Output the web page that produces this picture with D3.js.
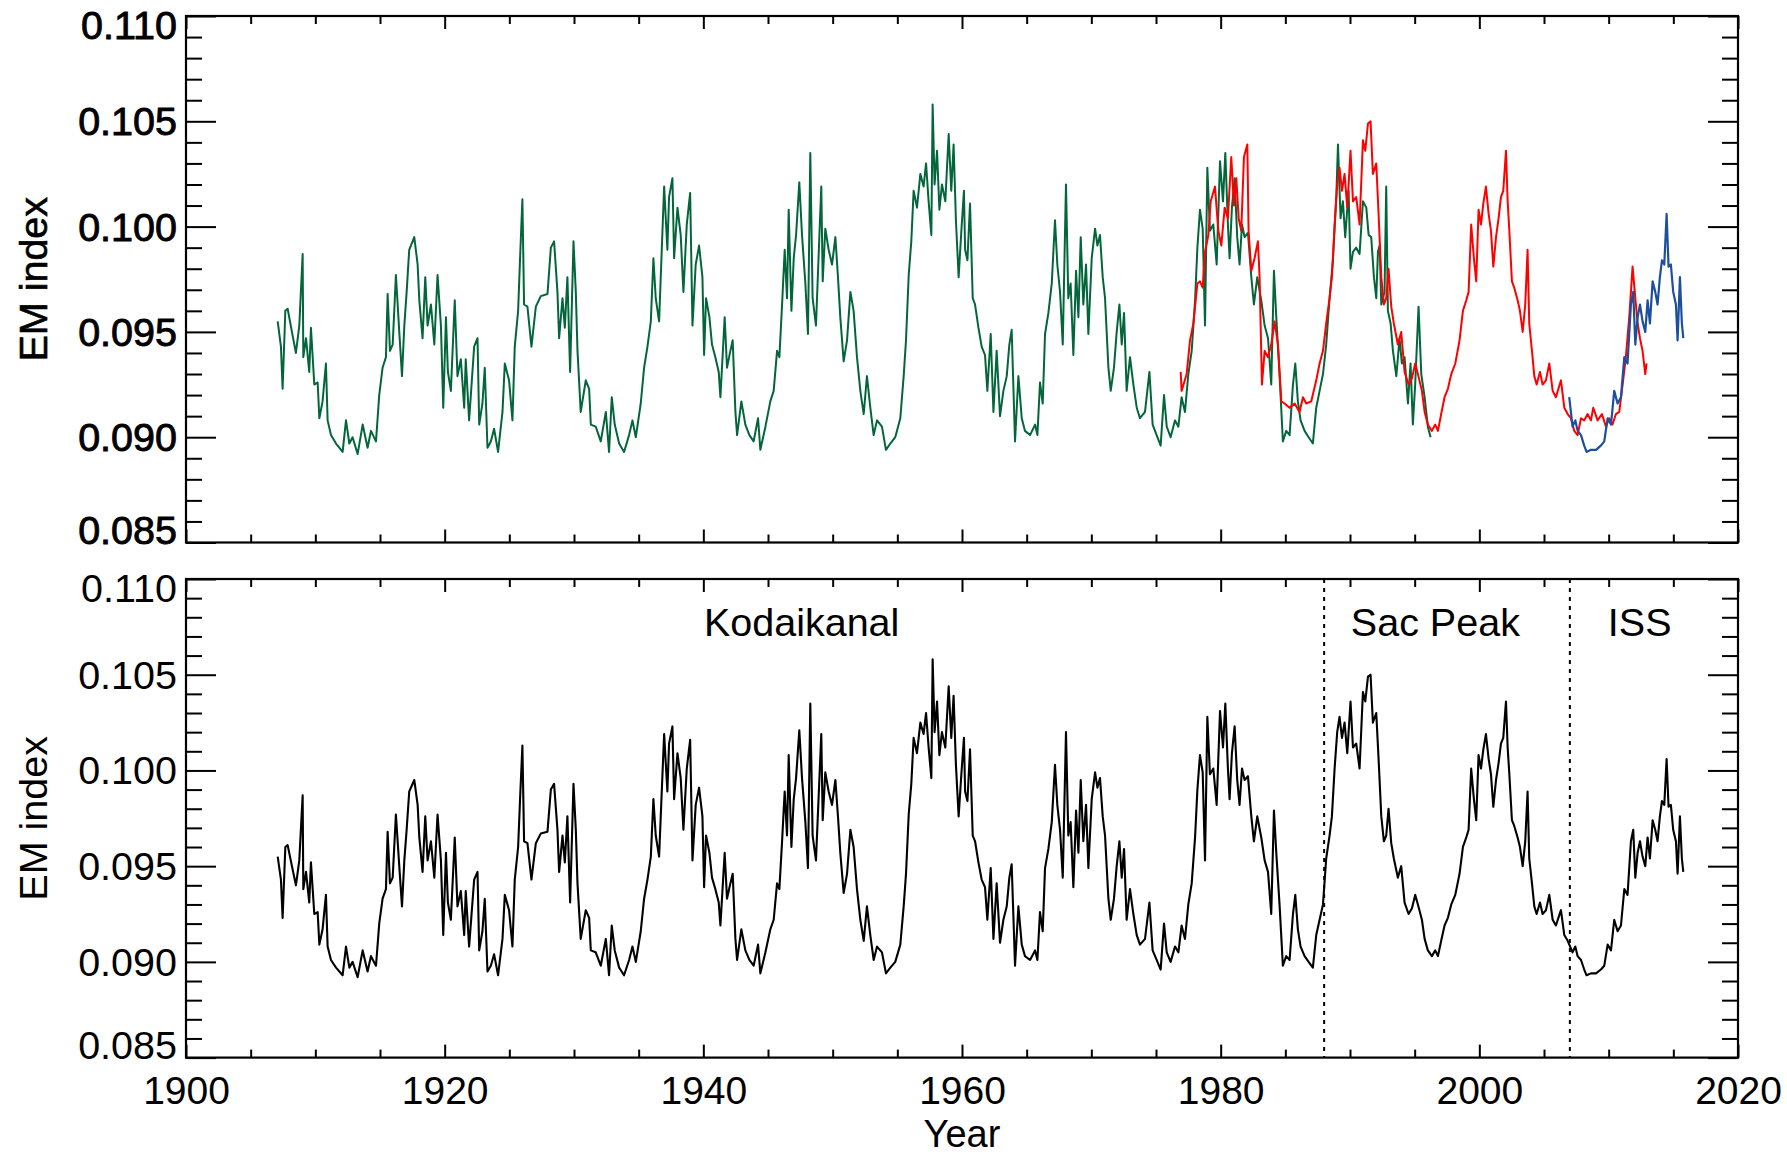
<!DOCTYPE html>
<html><head><meta charset="utf-8">
<script src="https://cdn.jsdelivr.net/npm/d3@7"></script>
<style>
body{margin:0;background:#fff}
svg{display:block}
text{font-family:"Liberation Sans",Arial,Helvetica,sans-serif;fill:#000}
</style>
</head><body>
<svg id="chart" width="1787" height="1155"></svg>
<script>
// ---------- data (year, EM index) ----------
const kodaikanal = [
[1907.09,0.0955],[1907.34,0.0943],[1907.47,0.0923],[1907.68,0.0960],[1907.86,0.0961],[1908.19,0.0950],[1908.50,0.0940],[1908.76,0.0953],[1909.02,0.0987],[1909.07,0.0938],[1909.28,0.0947],[1909.53,0.0931],[1909.66,0.0952],[1909.92,0.0925],[1910.18,0.0926],[1910.31,0.0909],[1910.56,0.0917],[1910.82,0.0935],[1910.95,0.0908],[1911.21,0.0901],[1911.60,0.0897],[1912.11,0.0893],[1912.37,0.0908],[1912.63,0.0897],[1912.88,0.0900],[1913.27,0.0892],[1913.66,0.0906],[1914.04,0.0895],[1914.30,0.0903],[1914.69,0.0898],[1914.94,0.0920],[1915.20,0.0933],[1915.46,0.0938],[1915.59,0.0968],[1915.77,0.0941],[1915.98,0.0944],[1916.23,0.0977],[1916.49,0.0950],[1916.70,0.0929],[1916.88,0.0953],[1917.06,0.0969],[1917.26,0.0989],[1917.65,0.0995],[1917.91,0.0982],[1918.04,0.0965],[1918.29,0.0947],[1918.50,0.0976],[1918.68,0.0953],[1918.94,0.0963],[1919.20,0.0944],[1919.45,0.0977],[1919.71,0.0953],[1919.89,0.0914],[1920.10,0.0957],[1920.25,0.0931],
[1920.48,0.0922],[1920.78,0.0965],[1920.99,0.0929],[1921.25,0.0937],[1921.51,0.0914],[1921.63,0.0937],[1921.89,0.0908],[1922.28,0.0943],[1922.54,0.0947],[1922.67,0.0906],[1922.92,0.0916],[1923.10,0.0933],[1923.31,0.0895],[1923.57,0.0898],[1923.82,0.0904],[1924.13,0.0893],[1924.47,0.0912],[1924.65,0.0935],[1924.98,0.0927],[1925.24,0.0908],[1925.42,0.0943],[1925.68,0.0960],[1925.83,0.0985],[1926.01,0.1013],[1926.14,0.0963],[1926.40,0.0962],[1926.71,0.0943],[1927.05,0.0962],[1927.43,0.0967],[1927.95,0.0968],[1928.21,0.0990],[1928.46,0.0993],[1928.72,0.0969],[1928.85,0.0947],[1929.11,0.0966],[1929.29,0.0952],[1929.49,0.0976],[1929.70,0.0931],[1929.96,0.0993],[1930.14,0.0969],[1930.27,0.0941],[1930.52,0.0912],[1930.91,0.0927],[1931.17,0.0923],[1931.30,0.0906],[1931.68,0.0905],[1932.07,0.0898],[1932.46,0.0912],[1932.71,0.0893],[1932.92,0.0919],[1933.15,0.0906],[1933.49,0.0897],[1933.87,0.0893],[1934.26,0.0901],[1934.52,0.0908],[1934.78,0.0900],[1935.16,0.0916],[1935.42,0.0933],[1935.68,0.0943],[1935.94,0.0955],[1936.14,0.0985],[1936.32,0.0966],[1936.58,0.0955],[1936.84,0.0998],[1936.97,0.1019],[1937.22,0.0989],[1937.35,0.1014],[1937.61,0.1023],[1937.74,0.0985],[1938.00,0.1009],[1938.25,0.0996],[1938.46,0.0969],[1938.72,0.1001],[1938.98,0.1016],[1939.16,0.0953],[1939.41,0.0982],[1939.67,0.0991],[1939.93,0.0976],[1940.06,0.0939],[1940.21,0.0966],
[1940.47,0.0957],[1940.67,0.0944],[1940.93,0.0938],[1941.19,0.0931],[1941.32,0.0919],[1941.65,0.0957],[1941.83,0.0933],[1942.09,0.0941],[1942.27,0.0946],[1942.48,0.0912],[1942.61,0.0901],[1942.94,0.0917],[1943.25,0.0906],[1943.56,0.0901],[1943.89,0.0898],[1944.23,0.0909],[1944.41,0.0894],[1944.80,0.0905],[1945.18,0.0917],[1945.44,0.0922],[1945.70,0.0941],[1945.88,0.0938],[1946.08,0.0962],[1946.29,0.0989],[1946.47,0.0966],[1946.60,0.1008],[1946.81,0.0960],[1946.99,0.0985],[1947.17,0.0996],[1947.42,0.1021],[1947.63,0.0996],[1947.89,0.0973],[1948.09,0.0949],[1948.27,0.1035],[1948.45,0.0966],[1948.71,0.0953],[1948.87,0.0979],[1949.12,0.1019],[1949.23,0.0974],[1949.43,0.0999],[1949.69,0.0989],[1949.95,0.0982],[1950.21,0.0995],[1950.41,0.0976],[1950.59,0.0957],[1950.85,0.0936],[1951.11,0.0946],[1951.37,0.0969],[1951.62,0.0960],[1951.88,0.0938],[1952.14,0.0922],[1952.40,0.0911],[1952.65,0.0929],[1952.91,0.0914],[1953.17,0.0901],[1953.43,0.0908],[1953.81,0.0905],[1954.12,0.0894],[1954.46,0.0897],[1954.84,0.0900],[1955.23,0.0909],[1955.49,0.0929],[1955.67,0.0946],[1955.88,0.0977],[1956.08,0.0993],[1956.26,0.1017],[1956.52,0.1009],[1956.78,0.1025],[1957.03,0.1019],[1957.22,0.1030],[1957.42,0.1012],[1957.63,0.0996],[1957.73,0.1058],[1957.88,0.1020],[1958.07,0.1036],[1958.25,0.1008],[1958.45,0.1020],[1958.71,0.1012],[1958.97,0.1044],[1959.17,0.1017],[1959.35,0.1039],[1959.53,0.1003],[1959.74,0.0976],[1959.95,0.0998],[1960.15,0.1017],
[1960.24,0.0989],[1960.42,0.0984],[1960.62,0.1011],[1960.83,0.0966],[1961.01,0.0963],[1961.27,0.0952],[1961.52,0.0943],[1961.78,0.0939],[1961.96,0.0922],[1962.22,0.0949],[1962.43,0.0912],[1962.68,0.0941],[1962.94,0.0910],[1963.20,0.0922],[1963.46,0.0929],[1963.66,0.0944],[1963.84,0.0951],[1964.10,0.0898],[1964.36,0.0929],[1964.62,0.0909],[1964.87,0.0903],[1965.26,0.0901],[1965.65,0.0906],[1965.83,0.0901],[1966.03,0.0926],[1966.24,0.0916],[1966.42,0.0949],[1966.68,0.0959],[1966.94,0.0973],[1967.19,0.1003],[1967.37,0.0982],[1967.58,0.0969],[1967.79,0.0944],[1968.04,0.1020],[1968.22,0.0966],[1968.40,0.0973],[1968.61,0.0939],[1968.82,0.0979],[1969.00,0.0957],[1969.18,0.0995],[1969.38,0.0963],[1969.59,0.0982],[1969.77,0.0949],[1970.03,0.0985],[1970.29,0.0999],[1970.47,0.0991],[1970.67,0.0996],[1970.88,0.0976],[1971.06,0.0966],[1971.32,0.0933],[1971.50,0.0922],[1971.75,0.0933],[1971.96,0.0950],[1972.17,0.0963],[1972.35,0.0944],[1972.53,0.0959],[1972.73,0.0922],[1972.99,0.0938],[1973.25,0.0925],[1973.51,0.0914],[1973.76,0.0909],[1974.15,0.0912],[1974.49,0.0931],[1974.74,0.0906],[1975.05,0.0901],[1975.36,0.0896],[1975.62,0.0920],[1975.83,0.0905],[1976.13,0.0900],[1976.47,0.0908],[1976.73,0.0905],[1976.98,0.0919],[1977.24,0.0912],[1977.50,0.0930],[1977.76,0.0941],[1978.02,0.0965],[1978.20,0.0990],[1978.40,0.1008],[1978.61,0.0999],[1978.79,0.0953],[1978.97,0.1028],[1979.17,0.0998],[1979.43,0.1001],[1979.69,0.0982],[1979.95,0.1031],
[1980.18,0.1012],[1980.36,0.1035],[1980.56,0.1001],[1980.69,0.0985],[1980.87,0.1009],[1981.08,0.1023],[1981.28,0.0995],[1981.46,0.0982],[1981.65,0.1001],[1981.85,0.0995],[1982.11,0.0997],[1982.37,0.0976],[1982.57,0.0963],[1982.83,0.0976],[1983.14,0.0965],[1983.40,0.0953],[1983.66,0.0947],[1983.91,0.0925],[1984.12,0.0979],[1984.30,0.0957],[1984.56,0.0929],[1984.81,0.0898],[1985.07,0.0903],[1985.33,0.0901],[1985.59,0.0925],[1985.77,0.0935],[1985.97,0.0917],[1986.18,0.0908],[1986.49,0.0903],[1986.80,0.0900],[1987.13,0.0897],[1987.39,0.0914],[1987.65,0.0922],[1987.91,0.0930],[1988.16,0.0944],[1988.42,0.0966],[1988.68,0.0984],[1988.94,0.1014],[1989.07,0.1039],[1989.27,0.1004],[1989.45,0.1012],[1989.63,0.0995],[1989.89,0.1017],[1990.04,0.0980],[1990.23,0.0988],[1990.48,0.0990],[1990.74,0.0987],[1991.00,0.1012],[1991.26,0.1009],[1991.44,0.0996],[1991.64,0.0995],[1991.85,0.0976],[1992.03,0.0966],[1992.16,0.0988],[1992.29,0.0991],[1992.42,0.0963],[1992.67,0.0969],[1992.80,0.1019],[1992.93,0.0960],[1993.14,0.0954],[1993.32,0.0941],[1993.58,0.0929],[1993.83,0.0947],[1994.01,0.0935],[1994.22,0.0938],[1994.48,0.0916],[1994.68,0.0935],[1994.86,0.0906],[1995.04,0.0925],[1995.30,0.0962],[1995.51,0.0930],[1995.77,0.0919],[1996.02,0.0905],[1996.23,0.0900]
];

const sacPeak = [
[1976.91,0.0931],[1976.98,0.0922],[1977.37,0.0930],[1977.63,0.0946],[1977.89,0.0954],[1978.20,0.0973],[1978.40,0.0974],[1978.61,0.0971],[1978.79,0.0988],[1979.05,0.0996],[1979.23,0.1012],[1979.56,0.1019],[1979.82,0.0998],
[1980.05,0.0991],[1980.31,0.1009],[1980.56,0.1004],[1980.82,0.1033],[1981.03,0.1010],[1981.21,0.1023],[1981.39,0.1004],[1981.59,0.0998],[1981.80,0.1033],[1982.06,0.1039],[1982.16,0.0998],[1982.37,0.0979],[1982.62,0.0985],[1982.88,0.0993],[1983.01,0.0976],[1983.19,0.0925],[1983.40,0.0941],[1983.66,0.0938],[1983.91,0.0944],[1984.17,0.0955],[1984.43,0.0944],[1984.69,0.0917],[1984.94,0.0916],[1985.33,0.0914],[1985.72,0.0916],[1986.10,0.0912],[1986.36,0.0919],[1986.62,0.0916],[1987.00,0.0917],[1987.39,0.0927],[1987.65,0.0935],[1987.91,0.0941],[1988.16,0.0954],[1988.42,0.0966],[1988.60,0.0976],[1988.81,0.1001],[1989.01,0.1020],[1989.19,0.1028],[1989.38,0.1017],[1989.58,0.1025],[1989.79,0.1009],[1990.04,0.1036],[1990.23,0.1012],[1990.48,0.1014],[1990.74,0.1001],[1991.00,0.1041],[1991.18,0.1036],[1991.39,0.1049],[1991.59,0.1050],[1991.77,0.1025],[1992.03,0.1030],[1992.21,0.1006],[1992.42,0.0976],[1992.62,0.0963],[1992.80,0.0966],[1992.98,0.0980],[1993.19,0.0962],[1993.39,0.0954],[1993.70,0.0944],[1993.96,0.0950],[1994.22,0.0931],[1994.53,0.0925],[1994.79,0.0928],[1995.04,0.0935],[1995.25,0.0930],[1995.56,0.0922],[1995.77,0.0912],[1996.02,0.0906],[1996.33,0.0903],[1996.59,0.0906],[1996.80,0.0903],[1997.05,0.0911],[1997.31,0.0919],[1997.57,0.0923],[1997.83,0.0930],[1998.14,0.0935],[1998.47,0.0946],[1998.73,0.0960],[1998.99,0.0965],[1999.17,0.0969],[1999.37,0.1001],[1999.58,0.0985],[1999.76,0.0974],[1999.94,0.1008],
[2000.13,0.1001],[2000.31,0.1011],[2000.51,0.1019],[2000.72,0.1006],[2000.90,0.0998],[2001.08,0.0981],[2001.29,0.0995],[2001.49,0.1004],[2001.67,0.1014],[2001.85,0.1017],[2002.06,0.1036],[2002.19,0.1012],[2002.32,0.0998],[2002.52,0.0974],[2002.70,0.0971],[2002.96,0.0965],[2003.14,0.0960],[2003.35,0.0950],[2003.55,0.0963],[2003.73,0.0989],[2003.86,0.0954],[2004.07,0.0941],[2004.25,0.0929],[2004.43,0.0925],[2004.69,0.0931],[2004.89,0.0925],[2005.15,0.0927],[2005.41,0.0935],[2005.67,0.0922],[2005.92,0.0919],[2006.31,0.0927],[2006.57,0.0914],[2006.83,0.0911],[2007.08,0.0909],[2007.34,0.0903],[2007.60,0.0901],[2007.86,0.0909],[2008.11,0.0908],[2008.37,0.0911],[2008.63,0.0908],[2008.81,0.0914],[2009.14,0.0908],[2009.48,0.0911],[2009.79,0.0905],[2010.05,0.0909],[2010.30,0.0906],[2010.56,0.0911],[2010.82,0.0912],[2011.08,0.0925],[2011.33,0.0938],[2011.59,0.0957],[2011.85,0.0981],[2012.06,0.0966],[2012.24,0.0954],[2012.42,0.0947],[2012.62,0.0941],[2012.83,0.0930],[2012.93,0.0935]
];

const iss = [
[2006.95,0.0919],[2007.21,0.0905],[2007.42,0.0908],[2007.60,0.0903],[2007.86,0.0901],[2008.11,0.0896],[2008.29,0.0893],[2008.63,0.0894],[2009.02,0.0894],[2009.40,0.0896],[2009.66,0.0898],[2009.92,0.0909],[2010.18,0.0906],[2010.43,0.0922],[2010.69,0.0916],[2010.95,0.0919],[2011.21,0.0938],[2011.46,0.0935],[2011.72,0.0963],[2011.90,0.0969],[2012.06,0.0944],[2012.24,0.0957],[2012.42,0.0963],[2012.62,0.0955],[2012.83,0.0950],[2013.01,0.0965],[2013.19,0.0954],[2013.40,0.0974],[2013.60,0.0969],[2013.78,0.0963],[2013.96,0.0976],[2014.12,0.0984],[2014.30,0.0982],[2014.48,0.1006],[2014.63,0.0981],[2014.81,0.0982],[2014.99,0.0969],[2015.20,0.0963],[2015.33,0.0946],[2015.51,0.0976],[2015.66,0.0954],[2015.77,0.0947]
];

// observatory switch-over years used for the composite (lower panel)
const boundaryYears = [1988, 2007];
const sectionNames = ["Kodaikanal", "Sac Peak", "ISS"];
const sectionLabelYears = [1947.6, 1996.6, 2012.4];

const xMajorTicks = [1900, 1920, 1940, 1960, 1980, 2000, 2020];
const xMinorTicks = [1905,1910,1915,1925,1930,1935,1945,1950,1955,1965,1970,1975,1985,1990,1995,2005,2010,2015];
const yMajorTicks = [0.085, 0.090, 0.095, 0.100, 0.105, 0.110];
const yMinorTicks = [0.086,0.087,0.088,0.089,0.091,0.092,0.093,0.094,0.096,0.097,0.098,0.099,0.101,0.102,0.103,0.104,0.106,0.107,0.108,0.109];

const colors = {kodaikanal:"#03663a", sacPeak:"#ff0000", iss:"#1d4f9e", composite:"#000000"};

// ---------- layout ----------
const svg = d3.select("#chart");
const L = 186, R = 1738;
const panelsBox = [{top:16, bottom:542.5}, {top:579, bottom:1057.6}];
const FS = 39.5;

const x = d3.scaleLinear().domain([1900, 2020]).range([L, R]);

function drawFrame(g, y, box, showXLabels, heavy) {
  const addAxis = (axis, tx, ty) => {
    const a = g.append("g").attr("transform", `translate(${tx},${ty})`).call(axis);
    a.select(".domain").remove();
    a.selectAll(".tick line").attr("stroke", "#000").attr("stroke-width", 2);
    return a;
  };
  addAxis(d3.axisLeft(y).tickValues(yMinorTicks).tickSizeInner(-16).tickSizeOuter(0).tickFormat(""), L, 0);
  addAxis(d3.axisRight(y).tickValues(yMinorTicks).tickSizeInner(-16).tickSizeOuter(0).tickFormat(""), R, 0);
  const yl = addAxis(d3.axisLeft(y).tickValues(yMajorTicks).tickSizeInner(-30).tickSizeOuter(0).tickPadding(9).tickFormat(d3.format(".3f")), L, 0);
  addAxis(d3.axisRight(y).tickValues(yMajorTicks).tickSizeInner(-30).tickSizeOuter(0).tickFormat(""), R, 0);
  yl.selectAll(".tick text")
    .attr("font-size", FS)
    .attr("font-family", '"Liberation Sans",Arial,sans-serif')
    .attr("fill", "#000")
    .attr("stroke", heavy ? "#000" : "none").attr("stroke-width", heavy ? 0.9 : 0)
    .attr("dy", d => d === 0.110 ? "0.58em" : (d === 0.085 ? "0.02em" : "0.34em"));

  addAxis(d3.axisBottom(x).tickValues(xMinorTicks).tickSizeInner(-8).tickSizeOuter(0).tickFormat(""), 0, box.bottom);
  addAxis(d3.axisTop(x).tickValues(xMinorTicks).tickSizeInner(-8).tickSizeOuter(0).tickFormat(""), 0, box.top);
  const xb = addAxis(d3.axisBottom(x).tickValues(xMajorTicks).tickSizeInner(-13).tickSizeOuter(0).tickPadding(19)
      .tickFormat(showXLabels ? d3.format("d") : ""), 0, box.bottom);
  addAxis(d3.axisTop(x).tickValues(xMajorTicks).tickSizeInner(-13).tickSizeOuter(0).tickFormat(""), 0, box.top);
  xb.selectAll(".tick text").attr("font-size", 39).attr("fill", "#000")
    .attr("font-family", '"Liberation Sans",Arial,sans-serif');

  g.append("rect").attr("x", L).attr("y", box.top).attr("width", R - L).attr("height", box.bottom - box.top)
    .attr("fill", "none").attr("stroke", "#000").attr("stroke-width", 2.2);

  g.append("text").attr("transform", `translate(33,${(box.top + box.bottom) / 2}) rotate(-90)`)
    .attr("text-anchor", "middle").attr("dominant-baseline", "central")
    .attr("font-size", FS)
    .attr("stroke", heavy ? "#000" : "none").attr("stroke-width", heavy ? 0.6 : 0)
    .text("EM index");
}

function drawSeries(g, y, data, color, w) {
  const line = d3.line().x(d => x(d[0])).y(d => y(d[1]));
  g.append("path").datum(data).attr("d", line).attr("fill", "none")
    .attr("stroke", color).attr("stroke-width", w).attr("stroke-linejoin", "round");
}

// ---------- top panel ----------
const yTop = d3.scaleLinear().domain([0.085, 0.110]).range([panelsBox[0].bottom, panelsBox[0].top]);
const gTop = svg.append("g");
drawSeries(gTop, yTop, kodaikanal, colors.kodaikanal, 2);
drawSeries(gTop, yTop, sacPeak, colors.sacPeak, 2);
drawSeries(gTop, yTop, iss, colors.iss, 2.2);
drawFrame(gTop, yTop, panelsBox[0], false, true);

// ---------- bottom panel (composite) ----------
const composite = kodaikanal.filter(d => d[0] < boundaryYears[0])
  .concat(sacPeak.filter(d => d[0] >= boundaryYears[0] && d[0] < boundaryYears[1]))
  .concat(iss.filter(d => d[0] >= boundaryYears[1]));
const yBot = d3.scaleLinear().domain([0.085, 0.110]).range([panelsBox[1].bottom, panelsBox[1].top]);
const gBot = svg.append("g");
drawSeries(gBot, yBot, composite, colors.composite, 2.1);
gBot.selectAll("line.sep").data(boundaryYears).enter().append("line")
  .attr("x1", d => x(d)).attr("x2", d => x(d))
  .attr("y1", panelsBox[1].top).attr("y2", panelsBox[1].bottom)
  .attr("stroke", "#000").attr("stroke-width", 2).attr("stroke-dasharray", "4,5");
gBot.selectAll("text.sec").data(sectionNames).enter().append("text")
  .attr("x", (d, i) => x(sectionLabelYears[i])).attr("y", 636)
  .attr("text-anchor", "middle").attr("font-size", FS).text(d => d);
drawFrame(gBot, yBot, panelsBox[1], true, false);

svg.append("text").attr("x", x(1960)).attr("y", 1147).attr("text-anchor", "middle")
  .attr("font-size", 38).text("Year");
</script>
</body></html>
